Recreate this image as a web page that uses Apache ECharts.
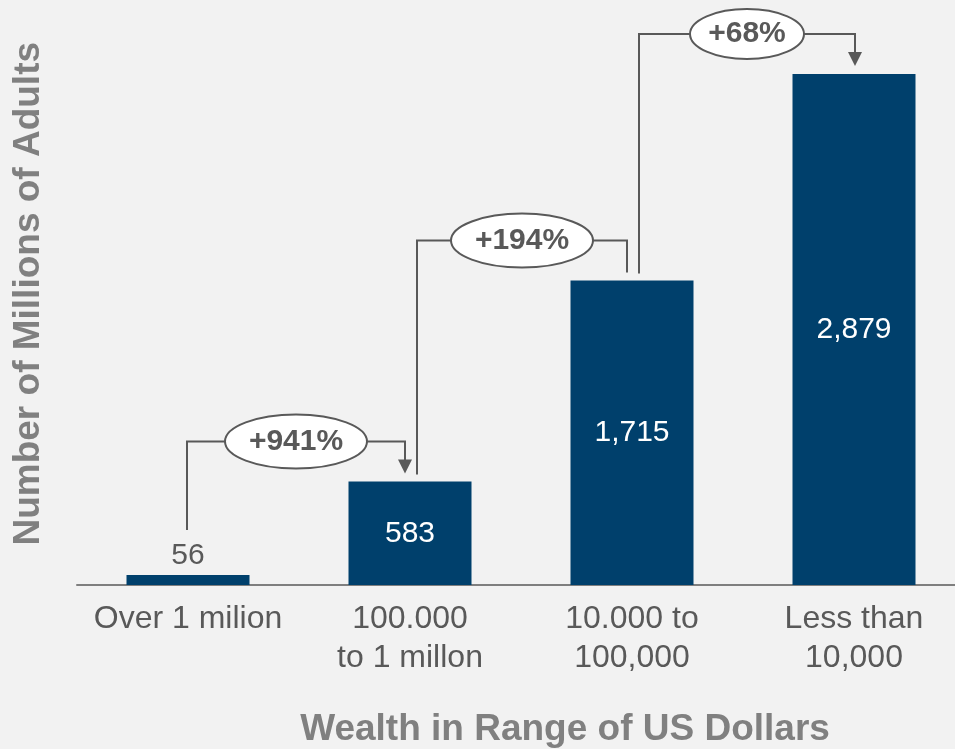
<!DOCTYPE html>
<html>
<head>
<meta charset="utf-8">
<script src="https://cdn.jsdelivr.net/npm/echarts@6/dist/echarts.min.js"></script>
<style>
  html, body { margin: 0; padding: 0; background: #f2f2f2; }
  #chart { width: 955px; height: 749px; }
</style>
</head>
<body>
<div id="chart"></div>
<script>
const categories = ['Over 1 milion', '100.000\nto 1 millon', '10.000 to\n100,000', 'Less than\n10,000'];
const adults = [56, 583, 1715, 2879];
const growthLabels = ['+941%', '+194%', '+68%'];
const growthArrow = [true, false, true];

const NAVY = '#00406c';
const GREY = '#595959';
const FONT = '"Liberation Sans", Arial, sans-serif';

// bars sit at x = 0..3 on a value axis so the band can run past the right edge
const positions = categories.map((c, i) => i);

// one step per neighbouring pair of bars: [fromIdx, fromVal, toIdx, toVal]
const steps = growthLabels.map((g, i) => [i, adults[i], i + 1, adults[i + 1]]);

function renderStep(params, api) {
  const i = params.dataIndex;
  const from = api.coord([api.value(0), api.value(1)]);
  const to = api.coord([api.value(2), api.value(3)]);
  const label = growthLabels[i];
  const x1 = from[0] + (i === 0 ? -1 : 7);
  const y1 = from[1] - (i === 0 ? 45 : 7);
  const x2 = to[0] + (i === growthLabels.length - 1 ? 1 : -5);
  const y2 = to[1] - 8;
  const level = to[1] - 40;
  const cx = (x1 + x2) / 2;
  const rx = 14 * label.length + 1;
  const ry = label.length > 4 ? 27 : 25;
  const line = { stroke: GREY, lineWidth: 2, fill: null };
  const children = [
    { type: 'polyline', shape: { points: [[x1, y1], [x1, level], [cx - rx, level]] }, style: line },
    { type: 'polyline', shape: { points: [[cx + rx, level], [x2, level], [x2, growthArrow[i] ? y2 - 12 : y2]] }, style: line },
    { type: 'ellipse', shape: { cx: cx, cy: level, rx: rx, ry: ry }, style: { fill: '#fff', stroke: GREY, lineWidth: 2 } },
    { type: 'text', style: { text: label, x: cx, y: level, align: 'center', verticalAlign: 'middle',
        font: 'bold 30px ' + FONT, fill: GREY } }
  ];
  if (growthArrow[i]) {
    children.push({ type: 'polygon', shape: { points: [[x2 - 7, y2 - 14], [x2 + 7, y2 - 14], [x2, y2]] },
      style: { fill: GREY } });
  }
  return { type: 'group', children: children };
}

const chart = echarts.init(document.getElementById('chart'));
chart.setOption({
  backgroundColor: '#f2f2f2',
  animation: false,
  grid: { left: 77, right: 0, top: 52.5, bottom: 164, outerBoundsMode: 'none' },
  xAxis: {
    type: 'value',
    min: -0.5,
    max: -0.5 + 878 / 222,
    name: 'Wealth in Range of US Dollars',
    nameLocation: 'middle',
    nameGap: 126,
    nameTextStyle: { color: '#808080', fontSize: 37, fontWeight: 'bold', fontFamily: FONT, padding: [0, 0, 0, 98] },
    axisLine: { show: true, onZero: false, lineStyle: { color: '#7f7f7f', width: 2 } },
    axisTick: { show: false },
    splitLine: { show: false },
    axisLabel: {
      customValues: positions,
      formatter: v => categories[Math.round(v)],
      color: GREY, fontSize: 32, fontFamily: FONT, lineHeight: 39, margin: 15
    }
  },
  yAxis: {
    type: 'value',
    min: 0,
    max: 3000,
    name: 'Number of Millions of Adults',
    nameLocation: 'middle',
    nameGap: 30,
    nameTextStyle: { color: '#808080', fontSize: 37, fontWeight: 'bold', fontFamily: FONT, padding: [0, 0, 0, 50] },
    axisLine: { show: false },
    axisTick: { show: false },
    axisLabel: { show: false },
    splitLine: { show: false }
  },
  series: [
    {
      type: 'bar',
      data: adults.map((v, i) => ({
        value: [positions[i], v],
        label: i === 0
          ? { position: 'top', color: GREY, distance: 4 }
          : { position: 'inside', color: '#fff' }
      })),
      barWidth: 123,
      itemStyle: { color: NAVY },
      label: {
        show: true,
        fontSize: 30,
        fontFamily: FONT,
        formatter: p => p.value[1].toLocaleString('en-US')
      }
    },
    {
      type: 'custom',
      coordinateSystem: 'cartesian2d',
      data: steps,
      encode: { x: [0, 2], y: [1, 3] },
      renderItem: renderStep,
      clip: false,
      z: 5
    }
  ]
});
</script>
</body>
</html>
